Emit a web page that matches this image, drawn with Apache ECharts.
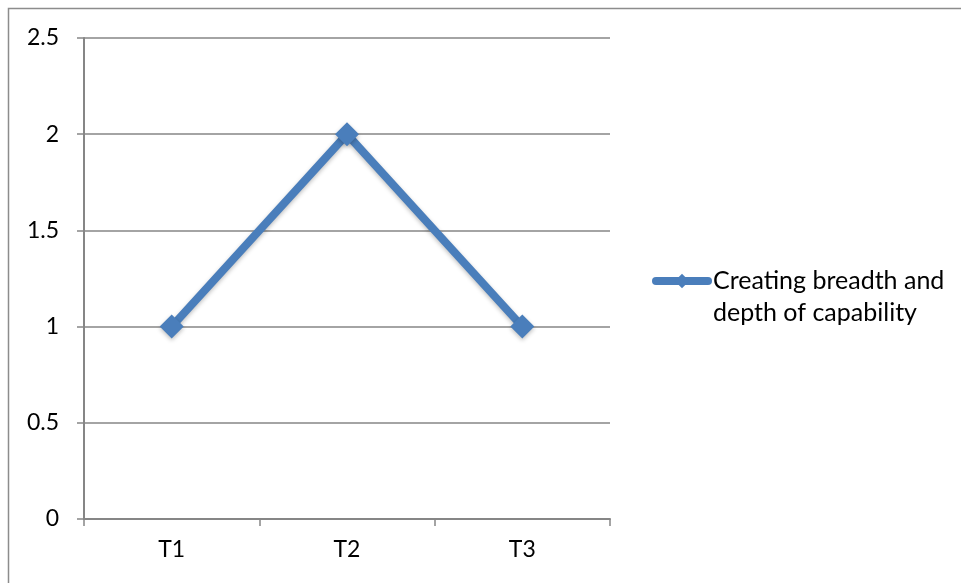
<!DOCTYPE html>
<html>
<head>
<meta charset="utf-8">
<script src="https://cdn.jsdelivr.net/npm/echarts@6/dist/echarts.min.js"></script>
<style>
  html, body { margin: 0; padding: 0; background: #fff; }
  #main { width: 961px; height: 583px; }
</style>
</head>
<body>
<div id="main"></div>
<script>
const categories = ['T1', 'T2', 'T3'];
const seriesName = 'Creating breadth and depth of capability';
const values = [1, 2, 1];

const chart = echarts.init(document.getElementById('main'));

const font = 'Lato, "Open Sans", sans-serif';

const option = {
  animation: false,
  graphic: [
    {
      type: 'rect',
      shape: { x: 8.5, y: 8.5, width: 1000, height: 1000 },
      style: { fill: 'none', stroke: '#8c8c8c', lineWidth: 1.5 },
      silent: true
    }
  ],
  grid: { left: 84, right: 351, top: 38, bottom: 64 },
  legend: {
    left: 652,
    top: 233,
    padding: 0,
    itemWidth: 52,
    itemHeight: 18,
    itemGap: 0,
    // leading blank line keeps the first text line level with the icon
    formatter: () => ' \nCreating breadth and\ndepth of capability',
    lineStyle: { width: 8, cap: 'round' },
    textStyle: {
      fontFamily: font,
      fontSize: 25,
      color: '#000',
      lineHeight: 32
    },
    data: [seriesName]
  },
  xAxis: {
    type: 'category',
    data: categories,
    boundaryGap: true,
    axisLine: { lineStyle: { color: '#868686', width: 2 } },
    axisTick: { show: true, length: 7, lineStyle: { color: '#868686', width: 1.5 } },
    axisLabel: { margin: 19, fontFamily: font, fontSize: 23, color: '#000' },
    splitLine: { show: false }
  },
  yAxis: {
    type: 'value',
    min: 0,
    max: 2.5,
    interval: 0.5,
    axisLine: { show: true, lineStyle: { color: '#868686', width: 2 } },
    axisTick: { show: true, length: 7, lineStyle: { color: '#868686', width: 1.5 } },
    axisLabel: { margin: 25, fontFamily: font, fontSize: 23, color: '#000' },
    splitLine: { lineStyle: { color: '#868686', width: 1.5 } }
  },
  series: [
    {
      name: seriesName,
      type: 'line',
      data: values,
      symbol: 'diamond',
      symbolSize: 24,
      lineStyle: {
        color: '#4a7ebb',
        width: 8,
        shadowColor: 'rgba(0,0,0,0.25)',
        shadowBlur: 4,
        shadowOffsetY: 2
      },
      itemStyle: {
        color: '#4a7ebb',
        shadowColor: 'rgba(0,0,0,0.25)',
        shadowBlur: 4,
        shadowOffsetY: 2
      }
    }
  ]
};

chart.setOption(option);
</script>
</body>
</html>
